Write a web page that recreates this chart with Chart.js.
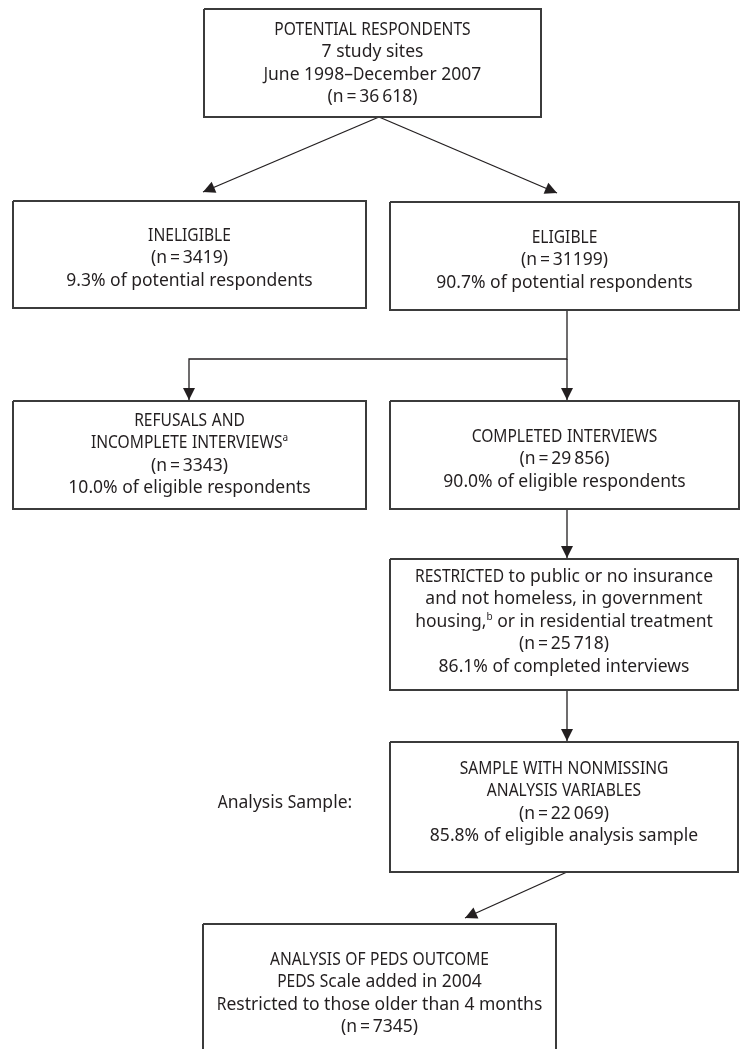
<!DOCTYPE html>
<html>
<head>
<meta charset="utf-8">
<script src="https://cdn.jsdelivr.net/npm/chart.js@4.4.1/dist/chart.umd.min.js"></script>
<style>
  html,body{margin:0;padding:0;background:#fff;}
  #wrap{position:relative;width:740px;height:1049px;}
</style>
</head>
<body>
<div id="wrap"><canvas id="flow"></canvas></div>
<script>
// ===== DATA =====
const stageTitles = [
  ['POTENTIAL RESPONDENTS', '7 study sites', 'June 1998\u2013December 2007'],
  ['INELIGIBLE'],
  ['ELIGIBLE'],
  ['REFUSALS AND', 'INCOMPLETE INTERVIEWS{a}'],
  ['COMPLETED INTERVIEWS'],
  ['RESTRICTED to public or no insurance', 'and not homeless, in government', 'housing,{b} or in residential treatment'],
  ['SAMPLE WITH NONMISSING', 'ANALYSIS VARIABLES'],
  ['ANALYSIS OF PEDS OUTCOME', 'PEDS Scale added in 2004', 'Restricted to those older than 4 months']
];
const stageCounts = ['36\u2009618', '3419', '31199', '3343', '29\u2009856', '25\u2009718', '22\u2009069', '7345'];
const stagePercents = [null, 9.3, 90.7, 10.0, 90.0, 86.1, 85.8, null];
const percentBases = [null, 'potential respondents', 'potential respondents', 'eligible respondents',
  'eligible respondents', 'completed interviews', 'eligible analysis sample', null];
const sideNote = 'Analysis Sample:';

// ===== LAYOUT (page units, y grows downward) =====
const boxes = [
  {x0:204, x1:541, y0:9,   y1:117, top:30},
  {x0:13,  x1:366, y0:201, y1:308, top:236},
  {x0:390, x1:739, y0:202, y1:310, top:238},
  {x0:13,  x1:366, y0:401, y1:509, top:421},
  {x0:390, x1:739, y0:401, y1:509, top:437},
  {x0:390, x1:738, y0:559, y1:690, top:577},
  {x0:390, x1:738, y0:742, y1:872, top:769},
  {x0:203, x1:556, y0:924, y1:1070, top:960}
];
// connectors: list of points, last point gets an arrowhead
const links = [
  [[379,117],[203,192]],
  [[379,117],[557,193]],
  [[567,310],[567,359],[189,359],[189,400]],
  [[567,359],[567,400]],
  [[567,509],[567,558]],
  [[567,690],[567,741]],
  [[567,872],[465,918]]
];
const notePos = {x:285, y:803};
const LINE_H = 22.5;
const INK = '#231f20';
const FONT = '"Noto Sans", "Open Sans", sans-serif';
const FONT_PX = 17.5;
const CAPS_X = 0.89;   // capitals are set narrower in the original face

function boxLines(i){
  const out = stageTitles[i].slice();
  out.push('(n\u2009=\u2009' + stageCounts[i] + ')');
  if(stagePercents[i] !== null) out.push(stagePercents[i].toFixed(1) + '% of ' + percentBases[i]);
  return out;
}

// ===== DATASETS =====
const datasets = [];
boxes.forEach(b=>{
  datasets.push({data:[{x:b.x0,y:b.y0},{x:b.x1,y:b.y0},{x:b.x1,y:b.y1},{x:b.x0,y:b.y1},{x:b.x0,y:b.y0}],
    showLine:true, pointRadius:0, borderColor:'#3b3b3b', borderWidth:2, fill:false, tension:0,
    borderJoinStyle:'miter'});
});
links.forEach(l=>{
  datasets.push({data:l.map(p=>({x:p[0],y:p[1]})), showLine:true, pointRadius:0,
    borderColor:INK, borderWidth:1.3, fill:false, tension:0});
});

// ===== TEXT + ARROWHEADS =====
function runs(text){
  // split a line into pieces: {t, sup, caps}
  const out = [];
  text.split(/\{(\w)\}/).forEach((p,k)=>{
    if(k%2){ out.push({t:p, sup:true, caps:false}); return; }
    p.split(/([A-Z]+)/).forEach((q,j)=>{ if(q) out.push({t:q, sup:false, caps:j%2===1}); });
  });
  return out;
}
function drawRich(ctx, text, cx, cy){
  const big = FONT_PX + 'px ' + FONT, small = Math.round(FONT_PX*0.55) + 'px ' + FONT;
  const pieces = runs(text);
  let w = 0;
  pieces.forEach(r=>{ctx.font = r.sup ? small : big; r.w = ctx.measureText(r.t).width*(r.caps?CAPS_X:1); w += r.w;});
  let x = cx - w/2;
  pieces.forEach(r=>{
    ctx.font = r.sup ? small : big;
    ctx.save();
    ctx.translate(x, r.sup ? cy - 5 : cy);
    if(r.caps) ctx.scale(CAPS_X, 1);
    ctx.fillText(r.t, 0, 0);
    ctx.restore();
    x += r.w;
  });
}

const flowPlugin = {
  id:'flowText',
  afterDatasetsDraw(chart){
    const ctx = chart.ctx, sx = chart.scales.x, sy = chart.scales.y;
    ctx.save();
    ctx.fillStyle = INK;
    ctx.textBaseline = 'middle';
    ctx.textAlign = 'left';
    // arrowheads
    links.forEach(l=>{
      const a = l[l.length-2], b = l[l.length-1];
      const ax = sx.getPixelForValue(a[0]), ay = sy.getPixelForValue(a[1]);
      const bx = sx.getPixelForValue(b[0]), by = sy.getPixelForValue(b[1]);
      const ang = Math.atan2(by-ay, bx-ax), len = 12, half = 6;
      ctx.beginPath();
      ctx.moveTo(bx, by);
      ctx.lineTo(bx - len*Math.cos(ang) + half*Math.sin(ang), by - len*Math.sin(ang) - half*Math.cos(ang));
      ctx.lineTo(bx - len*Math.cos(ang) - half*Math.sin(ang), by - len*Math.sin(ang) + half*Math.cos(ang));
      ctx.closePath();
      ctx.fill();
    });
    // box texts
    boxes.forEach((b,i)=>{
      const cx = sx.getPixelForValue((b.x0+b.x1)/2);
      boxLines(i).forEach((t,k)=>drawRich(ctx, t, cx, sy.getPixelForValue(b.top + k*LINE_H)));
    });
    drawRich(ctx, sideNote, sx.getPixelForValue(notePos.x), sy.getPixelForValue(notePos.y));
    ctx.restore();
  }
};

new Chart(document.getElementById('flow'), {
  type:'scatter',
  data:{datasets},
  options:{
    responsive:true, maintainAspectRatio:false, animation:false,
    layout:{padding:0},
    plugins:{legend:{display:false}, tooltip:{enabled:false}},
    scales:{
      x:{type:'linear', min:0, max:740, display:false},
      y:{type:'linear', min:0, max:1049, reverse:true, display:false}
    }
  },
  plugins:[flowPlugin]
});
</script>
</body>
</html>
